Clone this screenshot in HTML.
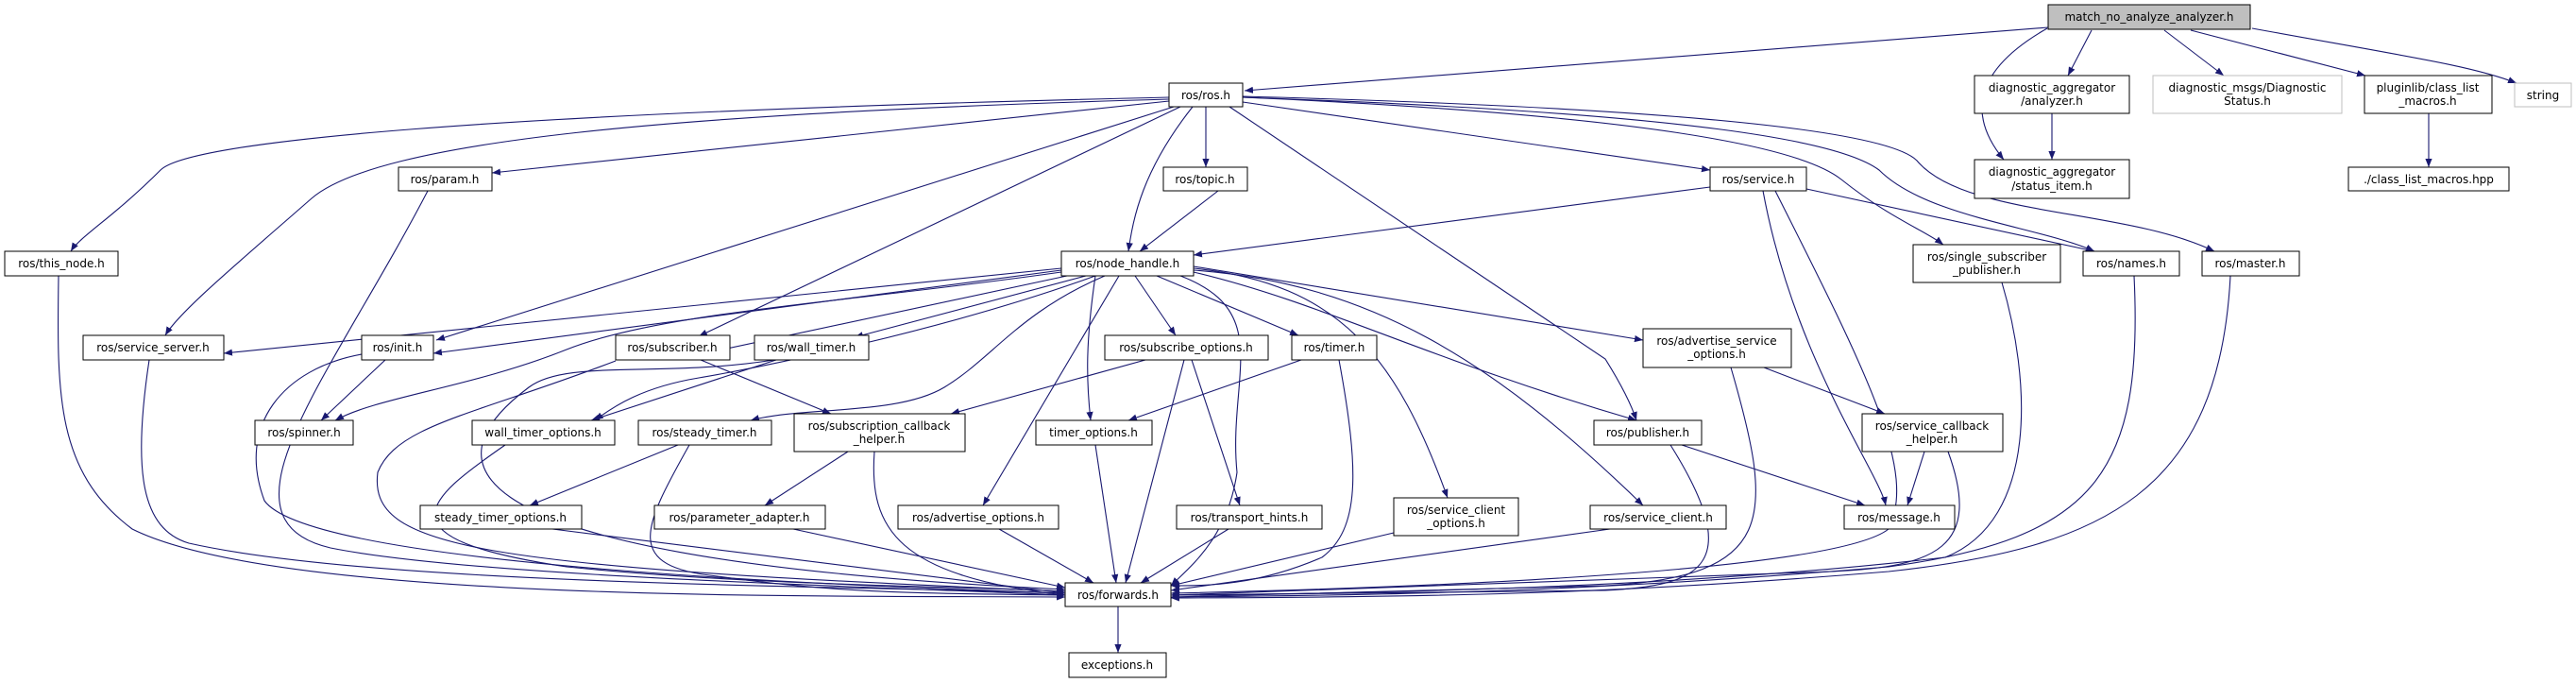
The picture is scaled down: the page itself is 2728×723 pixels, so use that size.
<!DOCTYPE html>
<html><head><meta charset="utf-8"><style>html,body{margin:0;padding:0;background:#fff}svg{display:block}</style></head><body>
<svg width="2728" height="723" viewBox="0 0 2728 723" xmlns="http://www.w3.org/2000/svg" font-family="DejaVu Sans, Liberation Sans, sans-serif" font-size="12">
<defs><marker id="a" viewBox="0 0 10 10" refX="10" refY="5" markerWidth="9" markerHeight="9" orient="auto" markerUnits="userSpaceOnUse"><path d="M0,1 L10,5 L0,9 z" fill="#191970"/></marker></defs>
<g fill="none" stroke="#191970" stroke-width="1.1" marker-end="url(#a)">
<path d="M2169,29 L1318,96"/>
<path d="M2168,30 C2080,80 2090,130 2122,169"/>
<path d="M2215,32 L2190,80"/>
<path d="M2292,32 L2355,80"/>
<path d="M2320,32 L2505,80"/>
<path d="M2385,30 C2550,60 2620,70 2665,88"/>
<path d="M2173,120 L2173,169"/>
<path d="M2572,120 L2572,177"/>
<path d="M1238,103 C500,120 200,150 170,180 C120,230 85,250 75,266"/>
<path d="M1238,105 C700,120 400,150 330,210 C250,280 190,330 175,355"/>
<path d="M1238,107 L521,183"/>
<path d="M1243,113 L462,360"/>
<path d="M1250,113 L740,356"/>
<path d="M1263,113 C1210,180 1200,230 1195,266"/>
<path d="M1277,113 L1277,177"/>
<path d="M1302,113 L1700,380 Q1725,420 1733,445"/>
<path d="M1316,108 L1811,180"/>
<path d="M1316,103 C1700,120 1900,150 1950,190 C2000,230 2040,245 2058,259"/>
<path d="M1316,103 C1800,120 1950,150 1990,180 C2040,230 2160,240 2218,266"/>
<path d="M1316,102 C1800,115 2000,140 2030,170 C2080,230 2250,220 2345,266"/>
<path d="M1290,202 L1207,266"/>
<path d="M1811,198 L1264,270"/>
<path d="M1913,200 L2218,266"/>
<path d="M1867,202 C1900,380 1990,500 1997,535"/>
<path d="M1124,284 L237,374"/>
<path d="M1124,286 L459,374"/>
<path d="M1124,288 C900,320 700,330 600,370 C500,410 400,420 355,445"/>
<path d="M1130,292 L756,372"/>
<path d="M1150,292 L905,357"/>
<path d="M1160,292 C1000,350 800,390 740,400 C680,410 650,430 630,445"/>
<path d="M1170,292 C1080,330 1050,380 1000,410 C950,440 850,430 795,445"/>
<path d="M1185,292 L1041,535"/>
<path d="M1160,292 C1150,360 1150,400 1155,445"/>
<path d="M1202,292 L1245,355"/>
<path d="M1225,292 L1375,355"/>
<path d="M1264,282 L1740,360"/>
<path d="M1264,284 C1420,300 1480,380 1533,527"/>
<path d="M1264,286 C1450,300 1580,380 1740,535"/>
<path d="M1264,288 C1400,320 1510,380 1733,445"/>
<path d="M1250,292 C1350,330 1300,400 1310,500 C1300,570 1260,600 1240,620"/>
<path d="M408,381 L340,445"/>
<path d="M742,381 L880,438"/>
<path d="M822,381 L626,445"/>
<path d="M718,471 L561,535"/>
<path d="M898,478 L810,535"/>
<path d="M1213,381 L1007,438"/>
<path d="M1262,381 L1313,535"/>
<path d="M1378,381 L1195,445"/>
<path d="M1781,471 L1975,535"/>
<path d="M1868,389 L1996,438"/>
<path d="M2038,478 L2020,535"/>
<path d="M62,292 C60,420 60,500 140,560 C300,640 900,630 1128,632"/>
<path d="M158,381 C140,500 150,560 200,575 C400,620 900,620 1128,628"/>
<path d="M453,202 C350,400 220,550 350,580 C500,610 900,620 1128,630"/>
<path d="M383,375 C300,390 250,450 280,530 C330,600 900,620 1128,628"/>
<path d="M652,382 C500,440 420,450 400,500 C390,580 500,600 1128,626"/>
<path d="M820,381 C700,400 600,380 560,410 C480,470 400,590 1128,624"/>
<path d="M535,471 C450,530 400,570 600,600 C800,620 1000,620 1128,626"/>
<path d="M730,471 C680,560 660,600 760,610 C900,630 1000,628 1128,630"/>
<path d="M926,478 C920,560 950,610 1128,630"/>
<path d="M1254,381 L1192,617"/>
<path d="M1418,381 C1440,500 1440,560 1400,590 C1330,620 1280,620 1240,620"/>
<path d="M1160,471 L1182,617"/>
<path d="M585,560 L1128,628"/>
<path d="M840,560 L1128,622"/>
<path d="M1058,560 L1158,617"/>
<path d="M1301,560 L1208,617"/>
<path d="M1476,564 L1240,620"/>
<path d="M1705,560 L1240,625"/>
<path d="M1769,471 C1850,600 1800,620 1700,625 L1240,630"/>
<path d="M1833,389 C1880,550 1880,610 1700,620 L1240,632"/>
<path d="M2063,478 C2100,580 2050,600 1940,605 L1240,630"/>
<path d="M2120,299 C2150,400 2160,550 2060,590 C1800,620 1500,628 1240,630"/>
<path d="M2260,292 C2270,500 2220,570 2000,600 C1700,625 1500,630 1240,632"/>
<path d="M2362,292 C2350,520 2230,580 2000,605 C1700,630 1500,632 1240,633"/>
<path d="M1880,202 C1980,400 2030,500 2000,560 C1950,600 1600,620 1240,628"/>
<path d="M1184,642 L1184,691"/>
</g>
<g stroke="#000" stroke-width="1" fill="#fff">
<rect x="2169" y="5" width="214" height="26" fill="#bfbfbf"/>
<rect x="2091" y="80" width="164" height="40"/>
<rect x="2280" y="80" width="200" height="40" stroke="#bfbfbf"/>
<rect x="2504" y="80" width="135" height="40"/>
<rect x="2663" y="88" width="60" height="25" stroke="#bfbfbf"/>
<rect x="2091" y="169" width="164" height="41"/>
<rect x="2487" y="177" width="170" height="25"/>
<rect x="1238" y="88" width="78" height="25"/>
<rect x="422" y="177" width="99" height="25"/>
<rect x="1232" y="177" width="89" height="25"/>
<rect x="1811" y="177" width="102" height="25"/>
<rect x="5" y="266" width="120" height="26"/>
<rect x="1124" y="266" width="140" height="26"/>
<rect x="2026" y="259" width="156" height="40"/>
<rect x="2206" y="266" width="102" height="26"/>
<rect x="2332" y="266" width="103" height="26"/>
<rect x="88" y="355" width="149" height="26"/>
<rect x="383" y="355" width="76" height="26"/>
<rect x="652" y="355" width="121" height="26"/>
<rect x="799" y="355" width="121" height="26"/>
<rect x="1170" y="355" width="173" height="26"/>
<rect x="1368" y="355" width="90" height="26"/>
<rect x="1740" y="348" width="157" height="41"/>
<rect x="270" y="445" width="104" height="26"/>
<rect x="500" y="445" width="151" height="26"/>
<rect x="676" y="445" width="141" height="26"/>
<rect x="841" y="438" width="181" height="40"/>
<rect x="1097" y="445" width="123" height="26"/>
<rect x="1688" y="445" width="114" height="26"/>
<rect x="1972" y="438" width="149" height="40"/>
<rect x="445" y="535" width="171" height="25"/>
<rect x="693" y="535" width="181" height="25"/>
<rect x="951" y="535" width="170" height="25"/>
<rect x="1246" y="535" width="154" height="25"/>
<rect x="1476" y="527" width="132" height="40"/>
<rect x="1684" y="535" width="144" height="25"/>
<rect x="1953" y="535" width="117" height="25"/>
<rect x="1128" y="617" width="112" height="25"/>
<rect x="1132" y="691" width="103" height="26"/>
</g>
<g fill="#000" text-anchor="middle">
<text x="2276" y="22">match_no_analyze_analyzer.h</text>
<text x="2173" y="97">diagnostic_aggregator</text><text x="2173" y="111">/analyzer.h</text>
<text x="2380" y="97">diagnostic_msgs/Diagnostic</text><text x="2380" y="111">Status.h</text>
<text x="2571" y="97">pluginlib/class_list</text><text x="2571" y="111">_macros.h</text>
<text x="2693" y="105">string</text>
<text x="2173" y="186">diagnostic_aggregator</text><text x="2173" y="201">/status_item.h</text>
<text x="2572" y="194">./class_list_macros.hpp</text>
<text x="1277" y="105">ros/ros.h</text>
<text x="471" y="194">ros/param.h</text>
<text x="1276" y="194">ros/topic.h</text>
<text x="1862" y="194">ros/service.h</text>
<text x="65" y="283">ros/this_node.h</text>
<text x="1194" y="283">ros/node_handle.h</text>
<text x="2104" y="276">ros/single_subscriber</text><text x="2104" y="290">_publisher.h</text>
<text x="2257" y="283">ros/names.h</text>
<text x="2383" y="283">ros/master.h</text>
<text x="162" y="372">ros/service_server.h</text>
<text x="421" y="372">ros/init.h</text>
<text x="712" y="372">ros/subscriber.h</text>
<text x="859" y="372">ros/wall_timer.h</text>
<text x="1256" y="372">ros/subscribe_options.h</text>
<text x="1413" y="372">ros/timer.h</text>
<text x="1818" y="365">ros/advertise_service</text><text x="1818" y="379">_options.h</text>
<text x="322" y="462">ros/spinner.h</text>
<text x="575" y="462">wall_timer_options.h</text>
<text x="746" y="462">ros/steady_timer.h</text>
<text x="931" y="455">ros/subscription_callback</text><text x="931" y="469">_helper.h</text>
<text x="1158" y="462">timer_options.h</text>
<text x="1745" y="462">ros/publisher.h</text>
<text x="2046" y="455">ros/service_callback</text><text x="2046" y="469">_helper.h</text>
<text x="530" y="552">steady_timer_options.h</text>
<text x="783" y="552">ros/parameter_adapter.h</text>
<text x="1036" y="552">ros/advertise_options.h</text>
<text x="1323" y="552">ros/transport_hints.h</text>
<text x="1542" y="544">ros/service_client</text><text x="1542" y="558">_options.h</text>
<text x="1756" y="552">ros/service_client.h</text>
<text x="2011" y="552">ros/message.h</text>
<text x="1184" y="634">ros/forwards.h</text>
<text x="1183" y="708">exceptions.h</text>
</g>
</svg>
</body></html>
